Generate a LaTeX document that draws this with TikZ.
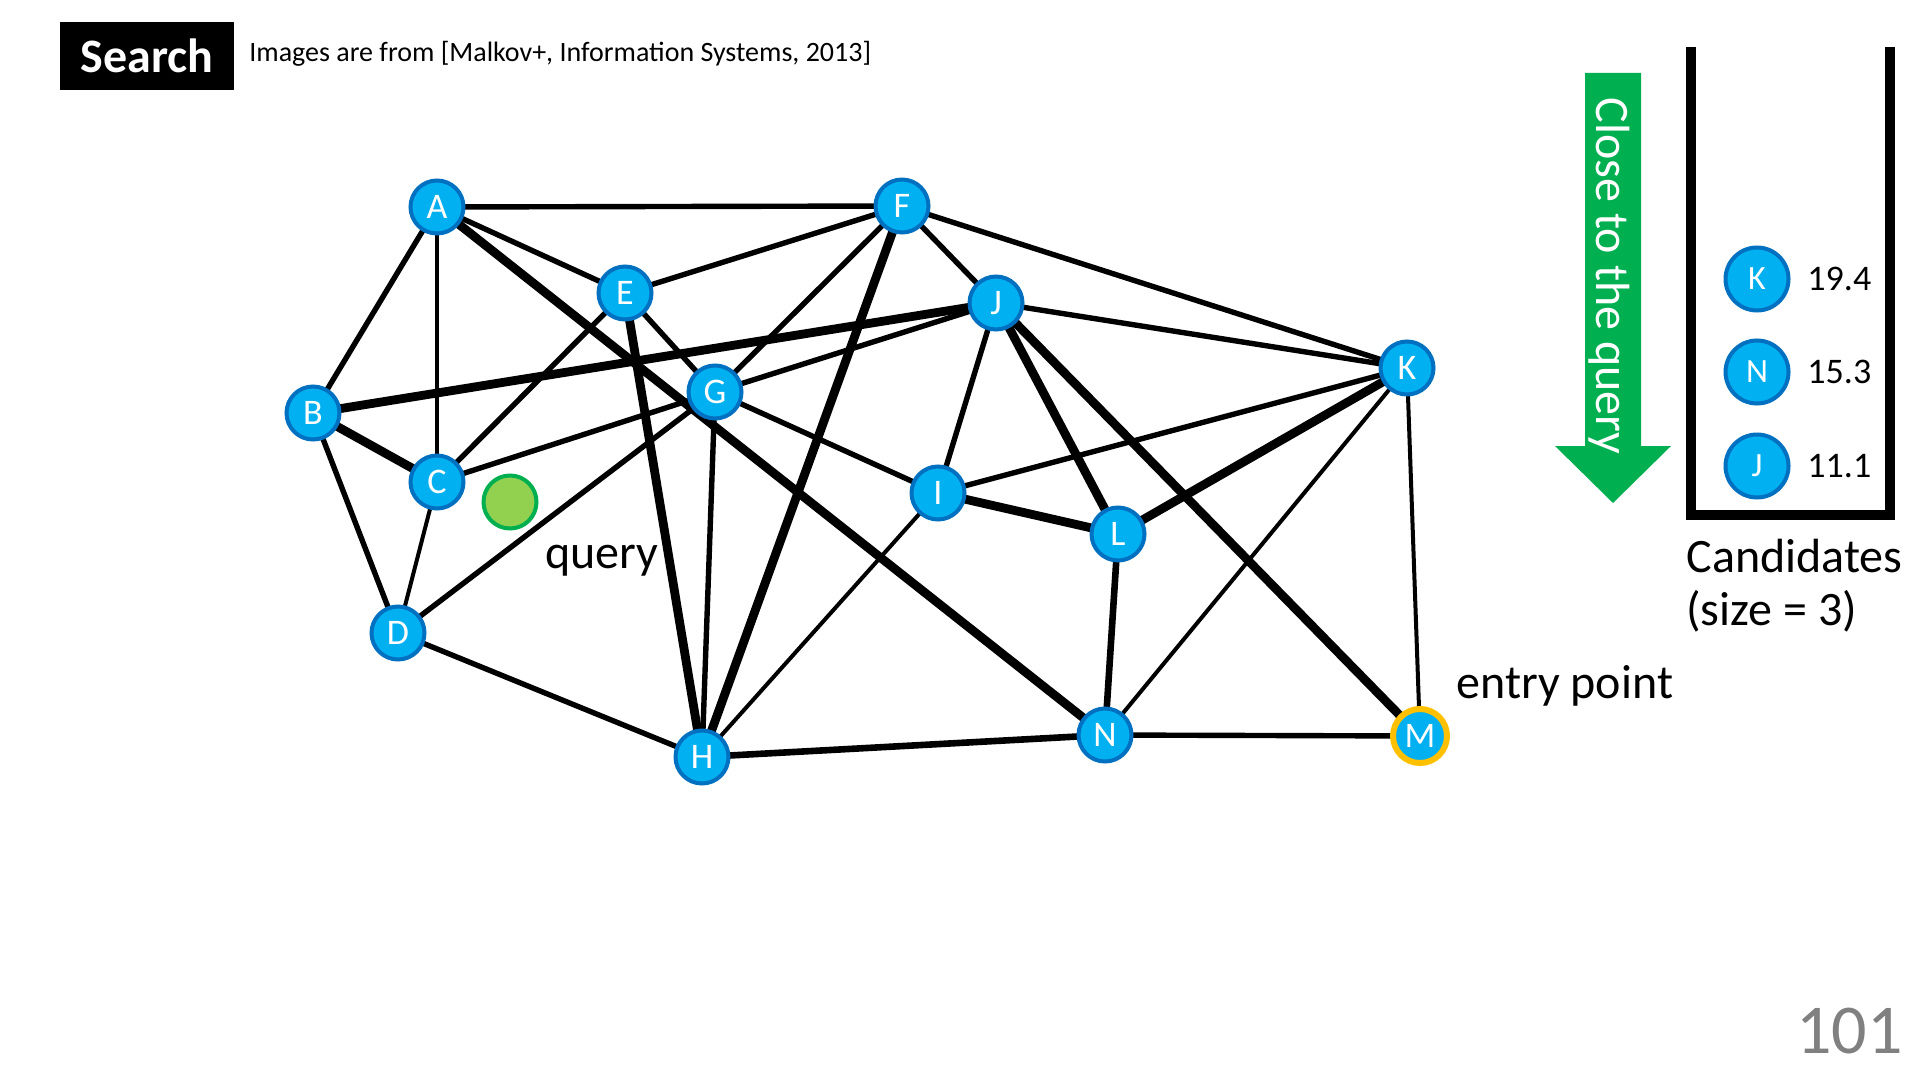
\documentclass[tikz,border=0pt]{standalone}
\usepackage{fontspec}
\setmainfont{Carlito}
\pgfdeclarelayer{bg}
\pgfsetlayers{bg,main}
\definecolor{nodefill}{RGB}{0,176,240}
\definecolor{nodeedge}{RGB}{0,112,192}
\definecolor{qfill}{RGB}{146,208,80}
\definecolor{ogreen}{RGB}{0,176,80}
\definecolor{entryring}{RGB}{255,192,0}
\definecolor{pagegray}{RGB}{128,128,128}
\tikzset{
  gnode/.style={circle, fill=nodefill, draw=nodeedge, line width=2pt, minimum size=26.5pt, inner sep=0pt, text=white, font=\fontsize{18}{18}\selectfont},
  cnode/.style={circle, fill=nodefill, draw=nodeedge, line width=2pt, minimum size=31.5pt, inner sep=0pt, text=white, font=\fontsize{17}{17}\selectfont},
  ethin/.style={line width=2pt},
  emed/.style={line width=2.7pt},
  emid/.style={line width=3.3pt},
  ebig/.style={line width=4.4pt},
  lbl/.style={font=\fontsize{24}{24}\selectfont, inner sep=0pt},
  num/.style={font=\fontsize{18}{18}\selectfont, inner sep=0pt, anchor=west}
}
\begin{document}
\begin{tikzpicture}[x=0.5pt,y=-0.5pt]
\useasboundingbox (0,0) rectangle (1920,1080);

% header
\node[fill=black, text=white, font=\bfseries\fontsize{24}{24}\selectfont, minimum width=87pt, minimum height=34pt, inner sep=0pt] (search) at (147,56) {Search};
\node[anchor=west, inner sep=0pt, font=\fontsize{14}{14}\selectfont] (cite) at (249,54) {Images are from [Malkov+, Information Systems, 2013]};

% graph nodes
\node[gnode] (A) at (437,207) {A};
\node[gnode] (B) at (313,413) {B};
\node[gnode] (C) at (437,482) {C};
\node[gnode] (D) at (398,633) {D};
\node[gnode] (E) at (625,293) {E};
\node[gnode] (F) at (902,206) {F};
\node[gnode] (G) at (715,392) {G};
\node[gnode] (H) at (702,757) {H};
\node[gnode] (I) at (938,493) {I};
\node[gnode] (J) at (996,303) {J};
\node[gnode] (K) at (1407,368) {K};
\node[gnode] (L) at (1118,534) {L};
\node[gnode] (N) at (1105,735) {N};
\node[gnode, draw=entryring, line width=3pt, minimum size=27pt] (M) at (1420,736) {M};
\node[circle, fill=qfill, draw=ogreen, line width=2pt, minimum size=26.5pt, inner sep=0pt] (Q) at (510,502) {};

\begin{pgfonlayer}{bg}
\draw[emed] (A.center) -- (F.center);
\draw[emed] (A.center) -- (B.center);
\draw[ethin] (A.center) -- (C.center);
\draw[emed] (A.center) -- (E.center);
\draw[ebig] (A.center) -- (N.center);
\draw[emed] (E.center) -- (F.center);
\draw[emed] (E.center) -- (C.center);
\draw[emed] (E.center) -- (G.center);
\draw[ebig] (E.center) -- (H.center);
\draw[ebig] (B.center) -- (J.center);
\draw[ebig] (B.center) -- (C.center);
\draw[emed] (B.center) -- (D.center);
\draw[ethin] (C.center) -- (D.center);
\draw[emed] (C.center) -- (G.center);
\draw[emed] (D.center) -- (G.center);
\draw[emed] (D.center) -- (H.center);
\draw[emed] (F.center) -- (G.center);
\draw[ebig] (F.center) -- (H.center);
\draw[emed] (F.center) -- (J.center);
\draw[emed] (F.center) -- (K.center);
\draw[emed] (G.center) -- (J.center);
\draw[emed] (G.center) -- (H.center);
\draw[emed] (G.center) -- (I.center);
\draw[emed] (J.center) -- (K.center);
\draw[emed] (J.center) -- (I.center);
\draw[ebig] (J.center) -- (L.center);
\draw[ebig] (J.center) -- (M.center);
\draw[emed] (I.center) -- (K.center);
\draw[ebig] (I.center) -- (L.center);
\draw[ethin] (I.center) -- (H.center);
\draw[ebig] (L.center) -- (K.center);
\draw[emid] (L.center) -- (N.center);
\draw[ethin] (K.center) -- (N.center);
\draw[ethin] (K.center) -- (M.center);
\draw[emid] (H.center) -- (N.center);
\draw[emed] (N.center) -- (M.center);
\end{pgfonlayer}

% labels
\node[lbl, anchor=base west] (qlabel) at (545,568) {query};
\node[lbl, anchor=base west] (entry) at (1456,698) {entry point};

% arrow
\fill[ogreen] (1585,73) -- (1641,73) -- (1641,446) -- (1671,446) -- (1613,503) -- (1555,446) -- (1585,446) -- cycle;
\node[lbl, rotate=-90, text=white] (close) at (1609,276) {Close to the query};

% candidates container
\draw[line width=5pt, line join=miter] (1691,47) -- (1691,515) -- (1890,515) -- (1890,47);
\node[cnode] (cK) at (1757,279) {K};
\node[cnode] (cN) at (1757,372) {N};
\node[cnode] (cJ) at (1757,466) {J};
\node[num] (vK) at (1807,279) {19.4};
\node[num] (vN) at (1807,372) {15.3};
\node[num] (vJ) at (1807,466) {11.1};
\node[lbl, anchor=base west] (cand) at (1686,572) {Candidates};
\node[lbl, anchor=base west] (size) at (1686,625) {(size = 3)};

% page number
\node[anchor=base east, inner sep=0pt, text=pagegray, font=\fontsize{35}{35}\selectfont] (page) at (1903,1053) {101};
\end{tikzpicture}
\end{document}
